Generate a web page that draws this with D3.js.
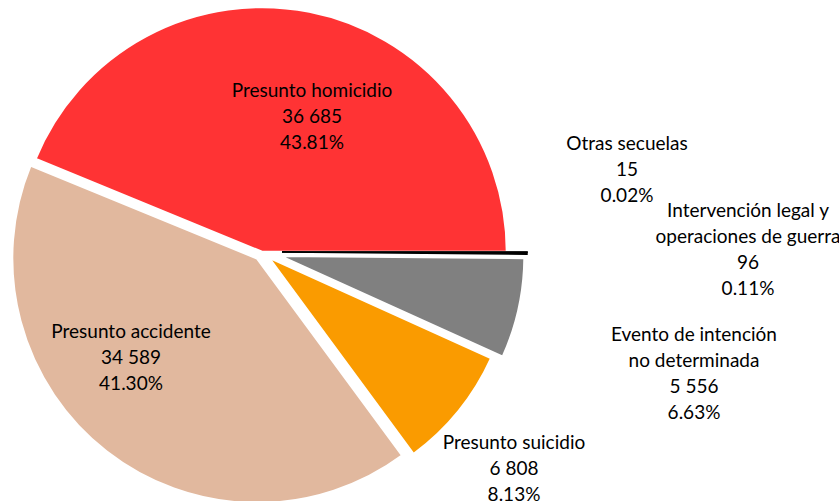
<!DOCTYPE html>
<html>
<head>
<meta charset="utf-8">
<script src="https://cdn.jsdelivr.net/npm/d3@7"></script>
<style>
  html, body { margin: 0; padding: 0; background: #fff; }
  text { font-family: Lato, "Noto Sans", sans-serif; fill: #000; }
</style>
</head>
<body>
<div id="chart"></div>
<script>
// data
const categories = [
  ["Presunto homicidio"],
  ["Presunto accidente"],
  ["Presunto suicidio"],
  ["Evento de intención", "no determinada"],
  ["Intervención legal y", "operaciones de guerra"],
  ["Otras secuelas"]
];
const values = [36685, 34589, 6808, 5556, 96, 15];
const percentLabels = ["43.81%", "41.30%", "8.13%", "6.63%", "0.11%", "0.02%"];

// styling
const colors = ["#FF3334", "#E1B89E", "#FA9B00", "#808080", "#000000", "#1a1a1a"];
const explode = [0, 8, 8, 18, 20, 20];
// label anchors (centre x, first line y)
const labelPos = [[312, 89], [131, 330], [514, 441], [694, 333], [748, 209], [627, 142]];

const width = 839, height = 501;
const cx = 262, cy = 252, radius = 245;
const lineH = 26;

const fmt = d3.formatLocale({decimal: ".", thousands: " ", grouping: [3], currency: ["", ""]}).format(",d");

const svg = d3.select("#chart").append("svg")
  .attr("width", width)
  .attr("height", height);

const g = svg.append("g").attr("transform", `translate(${cx},${cy})`);

// first slice starts at 3 o'clock, slices run counter-clockwise
const pie = d3.pie().sort(null).startAngle(Math.PI / 2).endAngle(Math.PI / 2 - 2 * Math.PI);
const arcs = pie(values);
const arc = d3.arc().innerRadius(0).outerRadius(radius);

g.selectAll("path.slice")
  .data(arcs)
  .enter().append("path")
  .attr("class", "slice")
  .attr("transform", (d, i) => {
    const mid = (d.startAngle + d.endAngle) / 2;
    return `translate(${Math.sin(mid) * explode[i]},${-Math.cos(mid) * explode[i]})`;
  })
  .attr("d", arc)
  .attr("fill", (d, i) => colors[i])
  .attr("stroke", (d, i) => i >= 4 ? "#000" : "#fff")
  .attr("stroke-width", (d, i) => i >= 4 ? 1.5 : 2.5)
  .attr("stroke-linejoin", "miter");

// labels
const labels = svg.selectAll("text.lbl")
  .data(categories)
  .enter().append("text")
  .attr("class", "lbl")
  .attr("text-anchor", "middle")
  .attr("font-size", 19)
  .attr("x", (d, i) => labelPos[i][0])
  .attr("y", (d, i) => labelPos[i][1]);

labels.each(function(d, i) {
  const lines = d.concat([fmt(values[i]), percentLabels[i]]);
  d3.select(this).selectAll("tspan")
    .data(lines)
    .enter().append("tspan")
    .attr("x", labelPos[i][0])
    .attr("y", (l, j) => labelPos[i][1] + j * lineH)
    .attr("dominant-baseline", "central")
    .text(l => l);
});
</script>
</body>
</html>
